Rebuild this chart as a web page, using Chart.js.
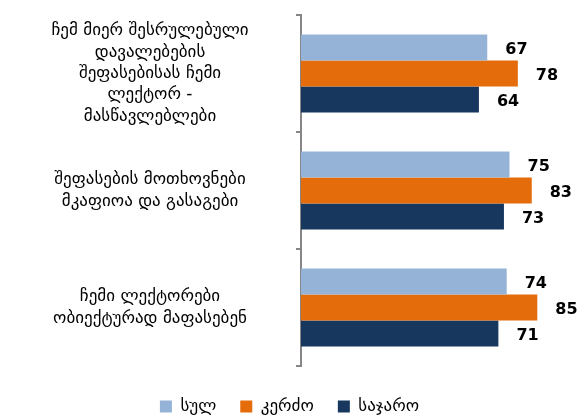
<!DOCTYPE html>
<html>
<head>
<meta charset="utf-8">
<script src="https://cdn.jsdelivr.net/npm/chart.js@4/dist/chart.umd.min.js"></script>
<style>
  html, body { margin: 0; padding: 0; background: #fff; }
  #wrap { width: 580px; height: 419px; }
</style>
</head>
<body>
<div id="wrap"><canvas id="chart" width="580" height="419"></canvas></div>
<script>
// categories (multi-line labels)
const categories = [
  ['ჩემ მიერ შესრულებული', 'დავალებების', 'შეფასებისას ჩემი', 'ლექტორ -', 'მასწავლებლები'],
  ['შეფასების მოთხოვნები', 'მკაფიოა და გასაგები'],
  ['ჩემი ლექტორები', 'ობიექტურად მაფასებენ']
];
const seriesNames = ['სულ', 'კერძო', 'საჯარო'];
const totalValues = [67, 75, 74];
const privateValues = [78, 83, 85];
const publicValues = [64, 73, 71];

const labelFont = '17px "DejaVu Sans"';
const axisRight = 301;
const labelCenter = 150;

// measure widest label line so the labels can be centred in the left area
const mctx = document.createElement('canvas').getContext('2d');
mctx.font = labelFont;
let widest = 0;
categories.forEach(lines => lines.forEach(l => {
  widest = Math.max(widest, mctx.measureText(l).width);
}));
const tickLen = 5;
const tickPad = Math.max(0, axisRight - tickLen - labelCenter - widest / 2);

const valueLabels = {
  id: 'valueLabels',
  afterDatasetsDraw(chart) {
    const ctx = chart.ctx;
    ctx.save();
    ctx.font = 'bold 16px "DejaVu Sans"';
    ctx.fillStyle = '#000';
    ctx.textBaseline = 'middle';
    ctx.textAlign = 'left';
    chart.data.datasets.forEach((ds, i) => {
      chart.getDatasetMeta(i).data.forEach((bar, j) => {
        ctx.fillText(ds.data[j], bar.x + 18, bar.y + 2);
      });
    });
    ctx.restore();
  }
};

new Chart(document.getElementById('chart'), {
  type: 'bar',
  data: {
    labels: categories,
    datasets: [
      { label: seriesNames[0], data: totalValues, backgroundColor: '#95B3D7' },
      { label: seriesNames[1], data: privateValues, backgroundColor: '#E46C0A' },
      { label: seriesNames[2], data: publicValues, backgroundColor: '#17375E' }
    ]
  },
  options: {
    indexAxis: 'y',
    responsive: false,
    animation: false,
    layout: { padding: { top: 15, right: 1, bottom: -6, left: 0 } },
    datasets: {
      bar: { categoryPercentage: 0.667, barPercentage: 1 }
    },
    scales: {
      x: { display: false, min: 0, max: 100 },
      y: {
        afterFit(scale) {
          scale.width = axisRight;
          scale.paddingTop = 0;
          scale.paddingBottom = 0;
        },
        border: { color: '#868686', width: 2 },
        grid: {
          offset: true,
          drawOnChartArea: false,
          drawTicks: true,
          tickLength: tickLen,
          color: '#868686',
          lineWidth: 2
        },
        ticks: {
          crossAlign: 'center',
          padding: tickPad,
          color: '#000',
          font: { family: 'DejaVu Sans', size: 17, lineHeight: 1.26 }
        }
      }
    },
    plugins: {
      tooltip: { enabled: false },
      legend: {
        position: 'bottom',
        // empty title only used as a spacer above the legend row
        title: { display: true, text: '', padding: 0, font: { size: 8, lineHeight: 1 } },
        labels: {
          boxWidth: 12,
          boxHeight: 12,
          padding: 24,
          color: '#000',
          font: { family: 'DejaVu Sans', size: 17 }
        }
      }
    }
  },
  plugins: [valueLabels]
});
</script>
</body>
</html>
